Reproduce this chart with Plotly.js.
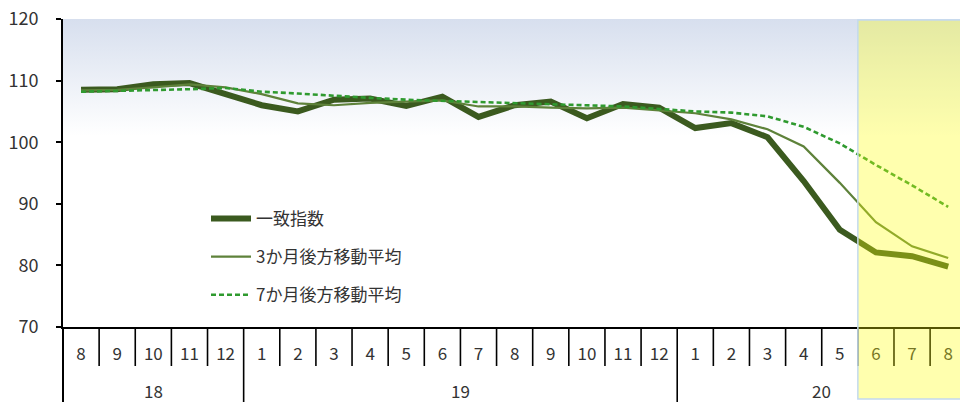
<!DOCTYPE html>
<html>
<head>
<meta charset="utf-8">
<script src="https://cdn.plot.ly/plotly-3.0.1.min.js"></script>
<style>html,body{margin:0;padding:0;background:#fff;}#chart{width:960px;height:402px;}</style>
</head>
<body>
<div id="chart"></div>
<script>
// ---- data ----
const categories = ['18/8','18/9','18/10','18/11','18/12',
  '19/1','19/2','19/3','19/4','19/5','19/6','19/7','19/8','19/9','19/10','19/11','19/12',
  '20/1','20/2','20/3','20/4','20/5','20/6','20/7','20/8'];
const monthLabels = ['8','9','10','11','12','1','2','3','4','5','6','7','8','9','10','11','12','1','2','3','4','5','6','7','8'];
const years = ['18','19','20'];
const coincident = [108.5,108.6,109.4,109.6,107.8,106.0,105.0,106.9,107.1,105.9,107.4,104.1,106.0,106.6,103.9,106.2,105.6,102.3,103.1,100.8,93.7,85.8,82.1,81.5,79.8];
const ma3 = [108.4,108.5,108.9,109.4,108.9,107.8,106.3,106.0,106.4,106.6,106.8,105.8,105.8,105.6,105.5,105.6,105.2,104.7,103.7,102.1,99.3,93.4,87.0,83.1,81.2];
const ma7 = [108.2,108.3,108.4,108.6,108.8,108.2,107.9,107.5,107.2,106.9,106.7,106.5,106.4,106.2,106.0,105.8,105.4,105.0,104.8,104.2,102.5,99.8,96.3,93.0,89.5];
const seriesNames = ['一致指数','3か月後方移動平均','7か月後方移動平均'];
const highlightFrom = '20/6';

// ---- layout helpers ----
const FONT = '"Noto Sans CJK JP", "Noto Sans", sans-serif';
const W = 960, H = 402, ML = 63, MT = 19, MB = 75;
const plotH = H - MT - MB;
const plotW = W - ML;
const catPx = 36.13;
const py = px => (H - MB - px) / plotH; // pixel y -> paper y

const traces = [
  {x: categories, y: coincident, name: seriesNames[0], type: 'scatter', mode: 'lines',
   line: {color: '#3b5a1f', width: 6}, legendgroup: 'a'},
  {x: categories, y: ma3, name: seriesNames[1], type: 'scatter', mode: 'lines',
   line: {color: '#5e823a', width: 2.2}, legendgroup: 'b'},
  {x: categories, y: ma7, name: seriesNames[2], type: 'scatter', mode: 'lines',
   line: {color: '#2f9a2f', width: 2.6, dash: '5px,3px'}, legendgroup: 'c'}
];

const shapes = [];
// month separators
for (let i = 0; i < categories.length - 1; i++) {
  const yearBreak = categories[i].split('/')[0] !== categories[i+1].split('/')[0];
  shapes.push({type: 'line', xref: 'x', yref: 'paper', x0: i + 0.5, x1: i + 0.5,
    y0: 0, y1: yearBreak ? py(H) : py(366), line: {color: '#000', width: 1.6}});
}
// left axis extension
shapes.push({type: 'line', xref: 'paper', yref: 'paper', x0: 0, x1: 0, y0: py(H), y1: 0,
  line: {color: '#000', width: 2}});
// highlight
const hi = categories.indexOf(highlightFrom);
shapes.push({type: 'rect', xref: 'x', yref: 'paper', x0: hi - 0.5, x1: categories.length + 1,
  y0: py(399), y1: py(20), layer: 'above', fillcolor: 'rgba(255,255,10,0.33)',
  line: {color: '#c3d9ee', width: 1.5}});

// year labels
const annotations = years.map(yr => {
  const idx = categories.map((c, i) => c.split('/')[0] === yr ? i : -1).filter(i => i >= 0);
  const center = (idx[0] + idx[idx.length - 1]) / 2;
  return {x: center, xref: 'x', y: py(390), yref: 'paper', text: yr, showarrow: false,
    font: {family: FONT, size: 17, color: '#333'}, xanchor: 'center', yanchor: 'middle'};
});

const grad = 'data:image/svg+xml;utf8,' + encodeURIComponent(
  '<svg xmlns="http://www.w3.org/2000/svg" width="10" height="100" viewBox="0 0 10 100" preserveAspectRatio="none">' +
  '<defs><linearGradient id="g" x1="0" y1="0" x2="0" y2="1">' +
  '<stop offset="0" stop-color="#d7dfee"/><stop offset="0.38" stop-color="#ffffff"/><stop offset="1" stop-color="#ffffff"/>' +
  '</linearGradient></defs><rect x="0" y="0" width="10" height="100" fill="url(#g)"/></svg>');

const layout = {
  width: W, height: H,
  margin: {l: ML, r: 0, t: MT, b: MB, pad: 0},
  paper_bgcolor: '#ffffff',
  plot_bgcolor: 'rgba(0,0,0,0)',
  font: {family: FONT, size: 17, color: '#333'},
  showlegend: true,
  legend: {x: (206 - ML) / plotW, y: py(201), xanchor: 'left', yanchor: 'top',
    bgcolor: 'rgba(0,0,0,0)', font: {family: FONT, size: 17, color: '#333'},
    traceorder: 'grouped', tracegroupgap: 13, itemwidth: 40},
  xaxis: {
    type: 'category', categoryorder: 'array', categoryarray: categories,
    range: [-0.5, -0.5 + plotW / catPx],
    tickvals: categories, ticktext: monthLabels, ticks: '',
    showline: true, linecolor: '#000', linewidth: 2, showgrid: false, zeroline: false,
    tickfont: {family: FONT, size: 17, color: '#333'}, ticklabelstandoff: 11
  },
  yaxis: {
    range: [70, 120], dtick: 10, tick0: 70, ticks: 'outside', ticklen: 5, tickwidth: 2, tickcolor: '#000',
    showline: true, linecolor: '#000', linewidth: 2, showgrid: false, zeroline: false,
    tickfont: {family: FONT, size: 18, color: '#333'}, ticklabelstandoff: 14
  },
  shapes: shapes,
  annotations: annotations,
  images: [{source: grad, xref: 'paper', yref: 'paper', x: 0, y: 1, sizex: 1, sizey: 1,
    sizing: 'stretch', xanchor: 'left', yanchor: 'top', layer: 'below'}]
};

Plotly.newPlot('chart', traces, layout, {displayModeBar: false, staticPlot: true});
</script>
</body>
</html>
